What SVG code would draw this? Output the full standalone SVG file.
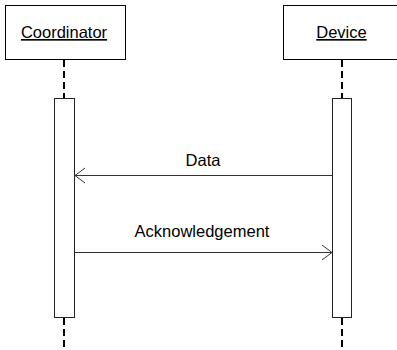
<svg xmlns="http://www.w3.org/2000/svg" width="397" height="350" viewBox="0 0 397 350">
<defs>
<style>
.box{fill:#fff;stroke:#000;stroke-width:1}
.act{fill:#fff;stroke:#222;stroke-width:1}
.life{stroke:#000;stroke-width:2;stroke-dasharray:7 4;fill:none}
.msg{stroke:#333;stroke-width:1;fill:none}
.head{stroke:#333;stroke-width:1;fill:none}
.lbl{font-family:"Liberation Sans",Arial,sans-serif;font-size:16.5px;fill:#000;text-anchor:middle}
.name{font-family:"Liberation Sans",Arial,sans-serif;font-size:16.5px;fill:#000;text-anchor:middle;text-decoration:underline}
</style>
</defs>
<g id="connectors">
<line class="life" x1="64" y1="60" x2="64" y2="98"/>
<line class="life" x1="64" y1="318" x2="64" y2="350"/>
<line class="life" x1="342" y1="60" x2="342" y2="98"/>
<line class="life" x1="342" y1="318" x2="342" y2="350"/>
</g>
<g id="coordinator">
<rect class="box" x="5.5" y="5.5" width="120" height="54"/>
<text class="name" x="64" y="38">Coordinator</text>
<rect class="act" x="54.5" y="98.5" width="20" height="219"/>
</g>
<g id="device">
<rect class="box" x="283.5" y="5.5" width="120" height="54"/>
<text class="name" x="341.5" y="38">Device</text>
<rect class="act" x="332.5" y="98.5" width="19" height="219"/>
</g>
<g id="messages">
<g id="msg-data">
<line class="msg" x1="332" y1="175.5" x2="75" y2="175.5"/>
<polyline class="head" points="85,168 75,175.5 85,183"/>
<text class="lbl" x="203" y="166">Data</text>
</g>
<g id="msg-ack">
<line class="msg" x1="75" y1="252.5" x2="332" y2="252.5"/>
<polyline class="head" points="322,245 332,252.5 322,260"/>
<text class="lbl" x="202" y="237">Acknowledgement</text>
</g>
</g>
</svg>
